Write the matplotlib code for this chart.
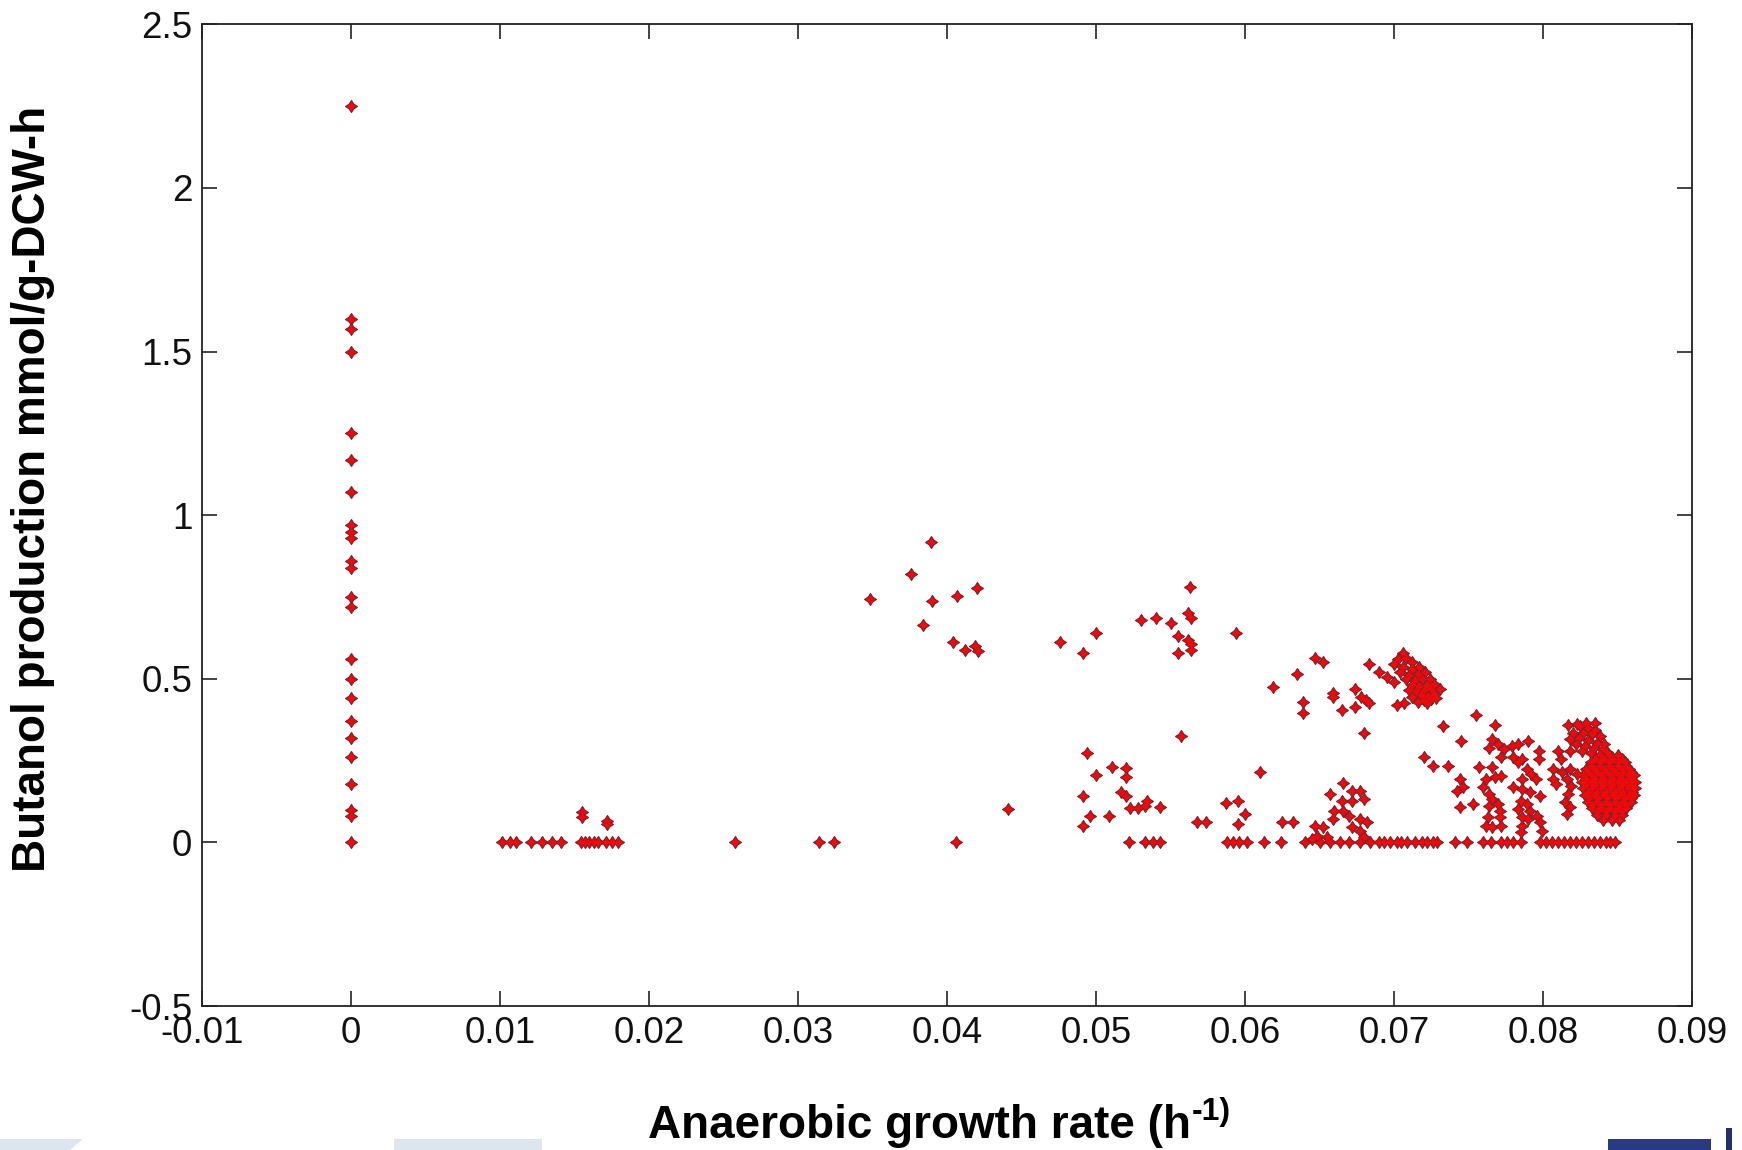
import matplotlib
matplotlib.use("Agg")
import matplotlib.pyplot as plt
import numpy as np
from matplotlib.patches import Polygon
from matplotlib.path import Path

plt.rcParams["font.family"] = ["Liberation Sans", "DejaVu Sans"]

# %% mutants with no anaerobic growth
zero_growth_butanol = [2.25, 1.60, 1.57, 1.50, 1.25, 1.17, 1.07, 0.97, 0.95, 0.93,
                       0.86, 0.84, 0.75, 0.72, 0.56, 0.50, 0.44, 0.37, 0.32, 0.26,
                       0.18, 0.10, 0.08, 0.0]

# %% mutants that grow but make no butanol
no_butanol_growth = [0.0101, 0.0107, 0.0111, 0.0121, 0.0128, 0.0135, 0.0141, 0.0154,
                     0.0157, 0.0160, 0.0163, 0.0166, 0.0171, 0.0175, 0.0179, 0.0258,
                     0.0314, 0.0324, 0.0406, 0.0522, 0.0533, 0.0538, 0.0543, 0.0588,
                     0.0592, 0.0596, 0.0601, 0.0613, 0.0624, 0.0640, 0.0650, 0.0657,
                     0.0664, 0.0670, 0.0677, 0.0684, 0.0690, 0.0693, 0.0697, 0.0702,
                     0.0705, 0.0709, 0.0714, 0.0719, 0.0722, 0.0726, 0.0729, 0.0741,
                     0.0749, 0.0760, 0.0765, 0.0772, 0.0776, 0.0780, 0.0785, 0.0798,
                     0.0802, 0.0806, 0.0810, 0.0814, 0.0818, 0.0822, 0.0826, 0.0830,
                     0.0834, 0.0838, 0.0842, 0.0845, 0.0848]

# %% low growth / mid growth scattered designs
low_growth = [0.0155, 0.0155, 0.0172, 0.0172]
low_butanol = [0.093, 0.077, 0.065, 0.056]

mid_growth = [0.0348, 0.0376, 0.0389, 0.0390, 0.0407, 0.0420, 0.0384, 0.0404, 0.0412,
              0.0419, 0.0421, 0.0476, 0.0500, 0.0491, 0.0563, 0.0530, 0.0540, 0.0550,
              0.0562, 0.0564, 0.0555, 0.0562, 0.0564, 0.0564, 0.0555, 0.0594, 0.0619,
              0.0635, 0.0557, 0.0441, 0.0494, 0.0511, 0.0520, 0.0520, 0.0500, 0.0491,
              0.0517, 0.0520, 0.0523, 0.0528, 0.0533, 0.0534, 0.0543, 0.0496, 0.0509,
              0.0491, 0.0568, 0.0574, 0.0587, 0.0595, 0.0600, 0.0595, 0.0610, 0.0625,
              0.0632]
mid_butanol = [0.745, 0.819, 0.917, 0.738, 0.753, 0.776, 0.663, 0.612, 0.588,
               0.600, 0.585, 0.611, 0.641, 0.578, 0.780, 0.680, 0.687, 0.670,
               0.700, 0.687, 0.630, 0.618, 0.605, 0.588, 0.578, 0.641, 0.474,
               0.514, 0.325, 0.102, 0.273, 0.230, 0.227, 0.200, 0.205, 0.142,
               0.153, 0.142, 0.105, 0.105, 0.110, 0.128, 0.107, 0.080, 0.080,
               0.050, 0.063, 0.063, 0.120, 0.126, 0.087, 0.056, 0.216, 0.062,
               0.062]

# %% designs around 0.064-0.076 h-1
upper_growth = [0.0647, 0.0652, 0.0683, 0.0659, 0.0659, 0.0674, 0.0678, 0.0683, 0.0681,
                0.0639, 0.0639, 0.0665, 0.0674, 0.0680,
                0.0690, 0.0695, 0.0700, 0.0706, 0.0703, 0.0708, 0.0712, 0.0700, 0.0706,
                0.0712, 0.0717, 0.0704, 0.0710, 0.0716, 0.0721, 0.0708, 0.0714, 0.0719,
                0.0724, 0.0712, 0.0717, 0.0722, 0.0727, 0.0710, 0.0715, 0.0720, 0.0725,
                0.0718, 0.0723, 0.0727, 0.0712, 0.0720, 0.0725, 0.0702, 0.0707, 0.0716,
                0.0722, 0.0728, 0.0731,
                0.0733, 0.0720, 0.0726, 0.0736, 0.0744, 0.0742, 0.0746, 0.0744, 0.0753,
                0.0745, 0.0755, 0.0768]
upper_butanol = [0.563, 0.550, 0.545, 0.458, 0.443, 0.470, 0.445, 0.425, 0.435,
                 0.430, 0.395, 0.405, 0.415, 0.335,
                 0.520, 0.505, 0.490, 0.580, 0.560, 0.565, 0.550, 0.545, 0.535,
                 0.530, 0.535, 0.520, 0.512, 0.515, 0.520, 0.498, 0.495, 0.500,
                 0.500, 0.480, 0.478, 0.482, 0.485, 0.465, 0.462, 0.465, 0.468,
                 0.450, 0.448, 0.455, 0.445, 0.435, 0.438, 0.420, 0.425, 0.428,
                 0.425, 0.440, 0.470,
                 0.355, 0.260, 0.232, 0.232, 0.194, 0.157, 0.168, 0.108, 0.117,
                 0.310, 0.388, 0.358]

lower_growth = [0.0666, 0.0657, 0.0665, 0.0672, 0.0677, 0.0680, 0.0672, 0.0660, 0.0666,
                0.0670, 0.0659, 0.0677, 0.0682, 0.0672, 0.0677, 0.0680, 0.0647, 0.0652,
                0.0648, 0.0655, 0.0645]
lower_butanol = [0.183, 0.147, 0.126, 0.157, 0.157, 0.132, 0.126, 0.096, 0.096,
                 0.080, 0.071, 0.071, 0.062, 0.047, 0.035, 0.017, 0.050, 0.047,
                 0.020, 0.017, 0.010]

# %% designs around 0.076-0.083 h-1
fast_growth = [0.0790, 0.0757, 0.0766,
               0.0766, 0.0770, 0.0774, 0.0779, 0.0783, 0.0764, 0.0772, 0.0780, 0.0786,
               0.0768, 0.0772, 0.0762, 0.0760, 0.0764, 0.0766, 0.0770, 0.0764, 0.0771,
               0.0763, 0.0771, 0.0762, 0.0766, 0.0772,
               0.0783, 0.0789, 0.0792, 0.0786, 0.0795, 0.0780, 0.0786, 0.0791, 0.0785,
               0.0789, 0.0798, 0.0783, 0.0791, 0.0786, 0.0790, 0.0786, 0.0796, 0.0798,
               0.0799, 0.0785, 0.0797, 0.0797, 0.0810, 0.0818, 0.0812,
               0.0807, 0.0813, 0.0818, 0.0823, 0.0807, 0.0816, 0.0809, 0.0819, 0.0817,
               0.0815, 0.0818, 0.0816]
fast_butanol = [0.310, 0.230, 0.230,
                0.315, 0.300, 0.285, 0.295, 0.300, 0.290, 0.260, 0.260, 0.255,
                0.200, 0.203, 0.194, 0.170, 0.148, 0.132, 0.117, 0.111, 0.095,
                0.077, 0.077, 0.050, 0.047, 0.050,
                0.245, 0.224, 0.208, 0.194, 0.194, 0.170, 0.163, 0.153, 0.126,
                0.117, 0.142, 0.102, 0.095, 0.077, 0.071, 0.050, 0.080, 0.062,
                0.035, 0.031, 0.280, 0.255, 0.280, 0.280, 0.255,
                0.224, 0.214, 0.224, 0.208, 0.194, 0.194, 0.178, 0.172, 0.147,
                0.122, 0.107, 0.087]

# %% fastest growing designs, 0.082-0.086 h-1
top_growth = [0.0825, 0.0830, 0.0835, 0.0820, 0.0827, 0.0833, 0.0838, 0.0818, 0.0824,
              0.0830, 0.0836, 0.0841, 0.0822, 0.0828, 0.0834, 0.0840, 0.0826, 0.0832,
              0.0838, 0.0843, 0.0817, 0.0823, 0.0829, 0.0835,
              0.0838, 0.0844, 0.0850,
              0.0835, 0.0841, 0.0847, 0.0853,
              0.0832, 0.0838, 0.0844, 0.0850, 0.0855,
              0.0832, 0.0838, 0.0844, 0.0850, 0.0856,
              0.0829, 0.0835, 0.0841, 0.0847, 0.0853, 0.0858,
              0.0830, 0.0836, 0.0842, 0.0848, 0.0854, 0.0859,
              0.0827, 0.0833, 0.0839, 0.0845, 0.0851, 0.0857, 0.0861,
              0.0829, 0.0835, 0.0841, 0.0847, 0.0853, 0.0859,
              0.0826, 0.0832, 0.0838, 0.0844, 0.0850, 0.0856, 0.0862,
              0.0829, 0.0835, 0.0841, 0.0847, 0.0853, 0.0859,
              0.0827, 0.0833, 0.0839, 0.0845, 0.0851, 0.0857, 0.0862,
              0.0830, 0.0836, 0.0842, 0.0848, 0.0854, 0.0860,
              0.0828, 0.0834, 0.0840, 0.0846, 0.0852, 0.0858, 0.0861,
              0.0831, 0.0837, 0.0843, 0.0849, 0.0855, 0.0859,
              0.0830, 0.0836, 0.0842, 0.0848, 0.0854, 0.0859,
              0.0833, 0.0839, 0.0845, 0.0851, 0.0856,
              0.0833, 0.0839, 0.0845, 0.0851, 0.0856,
              0.0836, 0.0842, 0.0848, 0.0853,
              0.0836, 0.0842, 0.0848, 0.0853,
              0.0840, 0.0846, 0.0851]
top_butanol = [0.355, 0.350, 0.345, 0.335, 0.335, 0.330, 0.325, 0.315, 0.318,
               0.312, 0.305, 0.300, 0.300, 0.295, 0.290, 0.285, 0.280, 0.272,
               0.268, 0.275, 0.360, 0.362, 0.365, 0.365,
               0.268, 0.268, 0.268,
               0.255, 0.255, 0.255, 0.255,
               0.245, 0.245, 0.245, 0.245, 0.245,
               0.235, 0.235, 0.235, 0.235, 0.235,
               0.225, 0.225, 0.225, 0.225, 0.225, 0.225,
               0.215, 0.215, 0.215, 0.215, 0.215, 0.215,
               0.205, 0.205, 0.205, 0.205, 0.205, 0.205, 0.205,
               0.195, 0.195, 0.195, 0.195, 0.195, 0.195,
               0.185, 0.185, 0.185, 0.185, 0.185, 0.185, 0.185,
               0.175, 0.175, 0.175, 0.175, 0.175, 0.175,
               0.165, 0.165, 0.165, 0.165, 0.165, 0.165, 0.165,
               0.155, 0.155, 0.155, 0.155, 0.155, 0.155,
               0.145, 0.145, 0.145, 0.145, 0.145, 0.145, 0.145,
               0.135, 0.135, 0.135, 0.135, 0.135, 0.135,
               0.125, 0.125, 0.125, 0.125, 0.125, 0.125,
               0.115, 0.115, 0.115, 0.115, 0.115,
               0.105, 0.105, 0.105, 0.105, 0.105,
               0.095, 0.095, 0.095, 0.095,
               0.085, 0.085, 0.085, 0.085,
               0.068, 0.068, 0.068]

xtick_values = [-0.01, 0, 0.01, 0.02, 0.03, 0.04, 0.05, 0.06, 0.07, 0.08, 0.09]
xtick_labels = ["-0.01", "0", "0.01", "0.02", "0.03", "0.04", "0.05", "0.06",
                "0.07", "0.08", "0.09"]
ytick_values = [-0.5, 0, 0.5, 1, 1.5, 2, 2.5]
ytick_labels = ["-0.5", "0", "0.5", "1", "1.5", "2", "2.5"]

# %%
W, H = 1742, 1150
fig = plt.figure(figsize=(W / 100, H / 100), dpi=100)
ax = fig.add_axes([0.116, 0.1252, 0.8553, 0.8536])

star = Path.unit_regular_star(4, 0.55)
groups = [
    (np.zeros(len(zero_growth_butanol)), zero_growth_butanol),
    (no_butanol_growth, np.zeros(len(no_butanol_growth))),
    (low_growth, low_butanol),
    (mid_growth, mid_butanol),
    (upper_growth, upper_butanol),
    (lower_growth, lower_butanol),
    (fast_growth, fast_butanol),
    (top_growth, top_butanol),
]
# dark outlined stars first, then a red core on top so dense clumps read as solid red
for gx, gy in groups:
    ax.plot(gx, gy, linestyle="none", marker=star, ms=8.5,
            mfc="#e80c0c", mec="#85202a", mew=0.9)
for gx, gy in groups:
    ax.plot(gx, gy, linestyle="none", marker=star, ms=6.0,
            mfc="#ee0a0a", mec="none")

ax.set_xlim(-0.01, 0.09)
ax.set_ylim(-0.5, 2.5)
ax.set_xticks(xtick_values)
ax.set_xticklabels(xtick_labels)
ax.set_yticks(ytick_values)
ax.set_yticklabels(ytick_labels)
ax.tick_params(direction="in", top=True, right=True, length=10.5, width=1.1,
               labelsize=26.5, pad=7, colors="#111111")
for sp in ax.spines.values():
    sp.set_linewidth(1.3)
    sp.set_color("#222222")

# x label with a raised "-1)" written as plain text so the dash stays a hyphen
xl_main = fig.text(0, 1 - 1126 / H, "Anaerobic growth rate (h",
                   fontsize=33, fontweight="bold", ha="left", va="center")
xl_sup = fig.text(0, 1 - 1120 / H, "-1)", fontsize=23, fontweight="bold",
                  ha="left", va="baseline")
fig.canvas.draw()
r = fig.canvas.get_renderer()
w_main = xl_main.get_window_extent(r).width
w_sup = xl_sup.get_window_extent(r).width
x0 = 939 - (w_main + w_sup) / 2
xl_main.set_x(x0 / W)
xl_sup.set_x((x0 + w_main + 1) / W)

fig.text(33 / W, 1 - 489 / H, "Butanol production mmol/g-DCW-h",
         fontsize=33, fontweight="bold", ha="center", va="center", rotation=90)


# slide template pieces along the bottom edge
def px(points):
    return [(x / W, 1 - y / H) for x, y in points]


for pts, col in [
    ([(0, 1139), (83, 1139), (70, 1150), (0, 1150)], "#dde6ef"),
    ([(394, 1139), (542, 1139), (542, 1150), (394, 1150)], "#dde6ef"),
    ([(1608, 1139), (1711, 1139), (1711, 1150), (1608, 1150)], "#2a3a80"),
    ([(1726, 1128), (1732, 1128), (1732, 1150), (1726, 1150)], "#22306e"),
]:
    fig.add_artist(Polygon(px(pts), closed=True, transform=fig.transFigure,
                           facecolor=col, edgecolor="none"))

fig.savefig("out.png", dpi=100)
